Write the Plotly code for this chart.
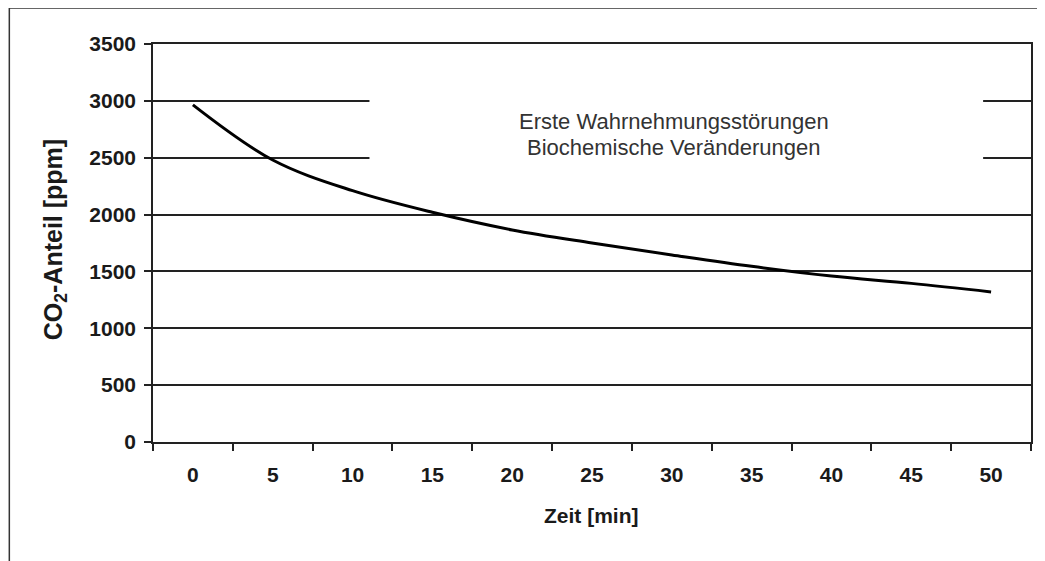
import plotly.graph_objects as go

zeit = [0, 5, 10, 15, 20, 25, 30, 35, 40, 45, 50]
co2 = [2965, 2480, 2210, 2020, 1865, 1750, 1645, 1545, 1460, 1395, 1320]
y_ticks = [0, 500, 1000, 1500, 2000, 2500, 3000, 3500]
note_lines = ["Erste Wahrnehmungsstörungen", "Biochemische Veränderungen"]

OFF = 8  # default page margin of the html body
W, H = 1045 - OFF, 561 - OFF
L, R, T, B = 153, 1033, 44, 442  # plot area in page pixels

def px(xp):
    return (xp - L) / (R - L)

def py(yp):
    return (B - yp) / (B - T)

FAM = "Liberation Sans, Arial"
tick_font = dict(family=FAM, size=21, color="#1a1a1a", weight="bold")

fig = go.Figure()
fig.add_trace(go.Scatter(
    x=zeit, y=co2, mode="lines",
    line=dict(color="black", width=3, shape="spline", smoothing=1),
    showlegend=False, hoverinfo="skip",
))

fig.update_layout(
    width=W, height=H,
    margin=dict(l=L - OFF, r=W - (R - OFF), t=T - OFF, b=H - (B - OFF)),
    paper_bgcolor="white", plot_bgcolor="white",
    xaxis=dict(
        range=[-2.5, 52.5], tickmode="array", tickvals=zeit,
        ticktext=[str(v) for v in zeit], ticks="",
        showgrid=False, zeroline=False,
        showline=True, linecolor="#222", linewidth=1.5, mirror=True,
        tickfont=tick_font, ticklabelstandoff=13,
        minor=dict(tickmode="linear", tick0=2.5, dtick=5, ticks="outside",
                   ticklen=7, tickwidth=1.5, tickcolor="#222", showgrid=False),
    ),
    yaxis=dict(
        range=[0, 3500], tickmode="array", tickvals=y_ticks,
        ticks="outside", ticklen=7, tickwidth=1.5, tickcolor="#222",
        showgrid=True, gridcolor="#222", gridwidth=1.5, zeroline=False,
        showline=True, linecolor="#222", linewidth=1.5, mirror=True,
        tickfont=tick_font, ticklabelstandoff=4,
    ),
    font=dict(family=FAM),
)

# white box behind the note that hides the gridlines
fig.add_shape(type="rect", xref="x", yref="y", x0=11.06, x1=49.5, y0=2350, y1=3150,
              fillcolor="white", line=dict(width=0), layer="above")

# outer chart frame (cropped)
fig.add_shape(type="line", xref="paper", yref="paper",
              x0=px(9), x1=px(9), y0=py(8), y1=py(575),
              line=dict(color="#333", width=1.5))
fig.add_shape(type="line", xref="paper", yref="paper",
              x0=px(9), x1=px(1050), y0=py(8), y1=py(8),
              line=dict(color="#333", width=1.5))

fig.add_annotation(x=px(675), y=py(122), xref="paper", yref="paper",
                   text=note_lines[0], showarrow=False, xanchor="center", yanchor="middle",
                   font=dict(family=FAM, size=22, color="#333"))
fig.add_annotation(x=px(675), y=py(147), xref="paper", yref="paper",
                   text=note_lines[1], showarrow=False, xanchor="center", yanchor="middle",
                   font=dict(family=FAM, size=22, color="#333"))

fig.add_annotation(x=px(55), y=py(240), xref="paper", yref="paper",
                   text="<b>CO<sub>2</sub>-Anteil [ppm]</b>", showarrow=False, textangle=-90,
                   xanchor="center", yanchor="middle",
                   font=dict(family=FAM, size=25, color="#1a1a1a"))
fig.add_annotation(x=px(592), y=py(515), xref="paper", yref="paper",
                   text="<b>Zeit [min]</b>", showarrow=False,
                   xanchor="center", yanchor="middle",
                   font=dict(family=FAM, size=21, color="#1a1a1a"))

fig.write_html("out.html")
